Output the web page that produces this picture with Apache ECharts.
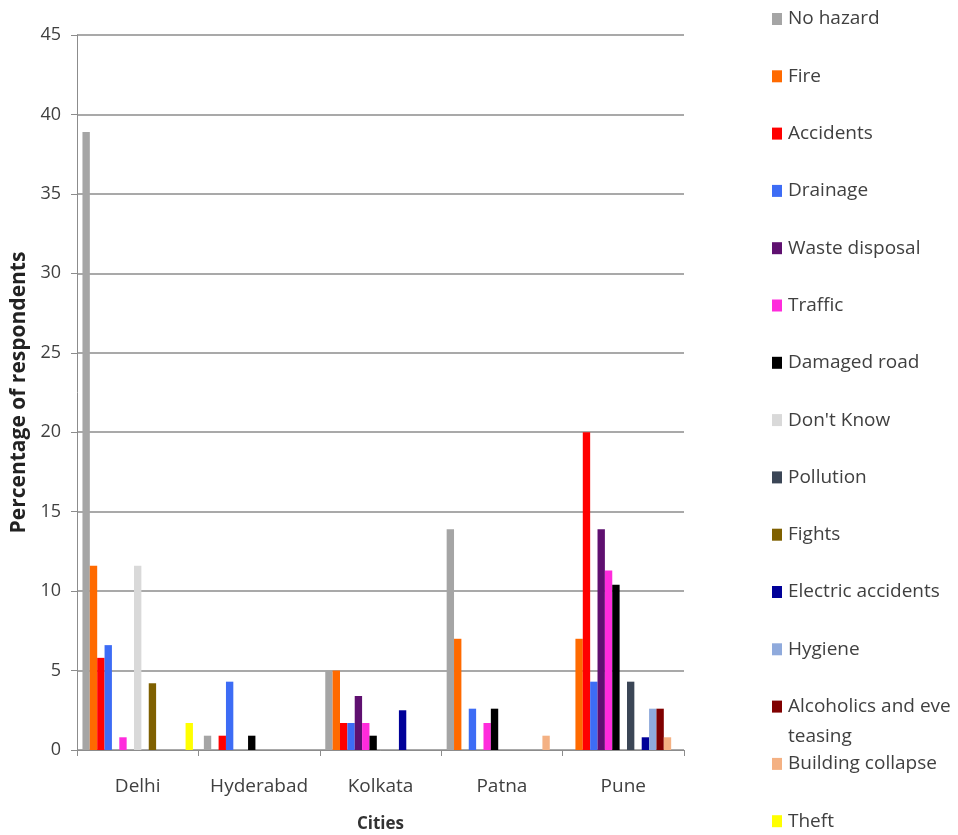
<!DOCTYPE html>
<html>
<head>
<meta charset="utf-8">
<script src="https://cdn.jsdelivr.net/npm/echarts@6/dist/echarts.min.js"></script>
<style>
  html, body { margin: 0; padding: 0; background: #fff; }
  #chart { width: 958px; height: 835px; }
</style>
</head>
<body>
<div id="chart"></div>
<script>
// Cities surveyed
const cities = ['Delhi', 'Hyderabad', 'Kolkata', 'Patna', 'Pune'];

// Percentage of respondents naming each hazard, per city
const noHazard          = [38.9, 0.9, 5.0, 13.9, 0];
const fire              = [11.6, 0, 5.0, 7.0, 7.0];
const accidents         = [5.8, 0.9, 1.7, 0, 20.0];
const drainage          = [6.6, 4.3, 1.7, 2.6, 4.3];
const wasteDisposal     = [0, 0, 3.4, 0, 13.9];
const traffic           = [0.8, 0, 1.7, 1.7, 11.3];
const damagedRoad       = [0, 0.9, 0.9, 2.6, 10.4];
const dontKnow          = [11.6, 0, 0, 0, 0];
const pollution         = [0, 0, 0, 0, 4.3];
const fights            = [4.2, 0, 0, 0, 0];
const electricAccidents = [0, 0, 2.5, 0, 0.8];
const hygiene           = [0, 0, 0, 0, 2.6];
const alcoholics        = [0, 0, 0, 0, 2.6];
const buildingCollapse  = [0, 0, 0, 0.9, 0.8];
const theft             = [1.7, 0, 0, 0, 0];

const seriesNames = [
  'No hazard', 'Fire', 'Accidents', 'Drainage', 'Waste disposal', 'Traffic',
  'Damaged road', "Don't Know", 'Pollution', 'Fights', 'Electric accidents',
  'Hygiene', 'Alcoholics and eve teasing', 'Building collapse', 'Theft'
];
const seriesValues = [
  noHazard, fire, accidents, drainage, wasteDisposal, traffic, damagedRoad,
  dontKnow, pollution, fights, electricAccidents, hygiene, alcoholics,
  buildingCollapse, theft
];
const seriesColors = [
  '#a5a5a5', '#ff6a00', '#ff0000', '#3d6cf5', '#5f1070', '#ff2bdc',
  '#000000', '#d9d9d9', '#3b4656', '#7f6000', '#000099', '#8faadc',
  '#800000', '#f4b183', '#ffff00'
];

const FONT = "'Open Sans', 'Liberation Sans', Arial, sans-serif";
const TEXT = '#404040';

const chart = echarts.init(document.getElementById('chart'), null, { renderer: 'canvas' });

// One legend block per entry so the column keeps an even pitch
const legendTop0 = 2;
const legendStep = 57.3;
const legends = seriesNames.map((name, i) => ({
  orient: 'vertical',
  left: 767,
  top: legendTop0 + legendStep * i,
  data: [name],
  itemWidth: 10,
  itemHeight: 12,
  itemGap: 0,
  selectedMode: false,
  icon: 'rect',
  formatter: n => (n === 'Alcoholics and eve teasing' ? 'Alcoholics and eve' : n),
  textStyle: { fontFamily: FONT, fontSize: 19, color: TEXT, lineHeight: 24, padding: [0, 0, 0, 1] }
}));

chart.setOption({
  animation: false,
  backgroundColor: '#ffffff',
  grid: { left: 77, right: 274, top: 35, bottom: 85, outerBoundsMode: 'none', containLabel: false },
  legend: legends,
  graphic: [{
    type: 'text',
    left: 788,
    top: 727,
    style: { text: 'teasing', fontFamily: FONT, fontSize: 19, fill: TEXT }
  }],
  xAxis: {
    type: 'category',
    data: cities,
    name: 'Cities',
    nameLocation: 'middle',
    nameGap: 66,
    nameTextStyle: { fontFamily: FONT, fontSize: 17, fontWeight: 'bold', color: '#333' },
    axisLine: { lineStyle: { color: '#8c8c8c', width: 1 } },
    axisTick: { show: true, interval: 0, length: 6, lineStyle: { color: '#8c8c8c' } },
    axisLabel: { interval: 0, hideOverlap: false, fontFamily: FONT, fontSize: 19, color: TEXT, margin: 27 }
  },
  yAxis: {
    type: 'value',
    min: 0,
    max: 45,
    interval: 5,
    name: 'Percentage of respondents',
    nameLocation: 'middle',
    nameGap: 46,
    nameTextStyle: { fontFamily: FONT, fontSize: 21, fontWeight: 'bold', color: '#222' },
    axisLine: { show: true, lineStyle: { color: '#8c8c8c', width: 1 } },
    axisTick: { show: true, length: 6, lineStyle: { color: '#8c8c8c' } },
    axisLabel: { fontFamily: FONT, fontSize: 18, color: TEXT, margin: 16 },
    splitLine: { lineStyle: { color: '#8c8c8c', width: 1.5 } }
  },
  series: seriesNames.map((name, i) => ({
    name,
    type: 'bar',
    data: seriesValues[i],
    barGap: '0%',
    barCategoryGap: '9%',
    itemStyle: { color: seriesColors[i] }
  }))
});
</script>
</body>
</html>
